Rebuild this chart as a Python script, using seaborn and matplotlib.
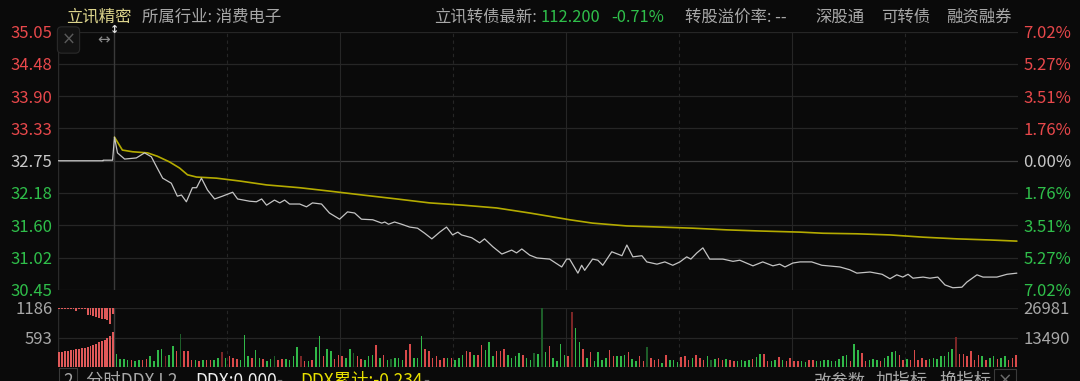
import numpy as np
import pandas as pd
import matplotlib
matplotlib.use("Agg")
import matplotlib.pyplot as plt
import seaborn as sns

# ---------------- data ----------------
prev_close = 32.75
price_ticks = [30.45, 31.02, 31.60, 32.18, 32.75, 33.33, 33.90, 34.48, 35.05]
pct_labels = ["7.02%", "5.27%", "3.51%", "1.76%", "0.00%", "1.76%", "3.51%", "5.27%", "7.02%"]

price_minute = [-15, -3, -3, -0.5, 0, 0.8, 2.7, 5.8, 8.0, 9.8,
                11.2, 12.8, 15.1, 16.7, 17.8, 19.1, 20.7, 21.8, 23.1, 24.7,
                26.6, 28.7, 31.4, 32.7, 35.9, 37.7, 39.1, 40.4, 42.5, 43.9,
                45.2, 46.5, 49.2, 51.0, 52.6, 55.0, 57.1, 59.8, 61.9, 63.8,
                65.6, 68.6, 71.0, 71.8, 72.8, 74.4, 76.3, 78.4, 80.5, 82.4,
                84.3, 86.4, 88.2, 89.8, 91.2, 92.2, 94.9, 97.0, 98.3, 100.5,
                102.9, 105.5, 106.8, 108.2, 110.3, 112.2, 115.6, 118.8, 120.1, 120.9,
                123.1, 124.1, 124.9, 127.0, 128.4, 129.7, 132.1, 134.8, 136.1, 137.7,
                140.1, 141.4, 144.1, 146.2, 148.3, 150.2, 152.0, 153.1, 154.7, 156.3,
                158.1, 161.6, 164.3, 166.1, 169.6, 172.2, 174.9, 176.7, 178.1, 180.2,
                182.1, 185.2, 187.9, 192.7, 195.3, 197.2, 200.7, 203.9, 206.0, 207.8,
                209.4, 210.8, 212.1, 214.8, 216.6, 218.7, 220.6, 222.7, 225.1, 226.4,
                229.1, 230.7, 234.4, 237.1, 239.7]
price = [32.75, 32.75, 32.76, 32.76, 33.17, 32.89, 32.78, 32.80, 32.89, 32.82,
         32.64, 32.44, 32.35, 32.12, 32.14, 32.02, 32.27, 32.27, 32.44, 32.23,
         32.07, 32.12, 32.19, 32.07, 32.03, 32.02, 32.07, 31.96, 32.05, 32.00,
         32.05, 31.98, 31.98, 31.93, 32.00, 31.98, 31.82, 31.71, 31.84, 31.82,
         31.71, 31.70, 31.64, 31.66, 31.62, 31.66, 31.62, 31.57, 31.55, 31.46,
         31.36, 31.48, 31.57, 31.43, 31.48, 31.43, 31.38, 31.29, 31.36, 31.22,
         31.09, 31.16, 31.11, 31.18, 31.07, 31.02, 31.00, 30.86, 31.00, 31.00,
         30.75, 30.89, 30.80, 31.00, 30.98, 30.89, 31.13, 31.06, 31.25, 31.04,
         31.06, 30.95, 30.91, 30.95, 30.89, 30.95, 31.04, 31.00, 31.11, 31.20,
         31.00, 31.00, 30.96, 30.98, 30.88, 30.95, 30.88, 30.91, 30.86, 30.93,
         30.95, 30.95, 30.89, 30.86, 30.81, 30.75, 30.77, 30.73, 30.65, 30.72,
         30.68, 30.73, 30.66, 30.68, 30.66, 30.68, 30.54, 30.49, 30.50, 30.59,
         30.72, 30.68, 30.68, 30.73, 30.75]

avg_minute = [0, 2.1, 4.8, 8.8, 11.4, 14.6, 17.3, 19.4, 21.8, 27.1,
              33.2, 40.4, 49.2, 57.1, 65.9, 75.0, 83.7, 92.5, 101.5, 110.3,
              118.3, 120.9, 127.0, 136.1, 144.9, 153.6, 162.7, 171.4, 182.1, 188.2,
              197.2, 206.0, 214.8, 223.8, 232.6, 239.7]
avg_price = [33.17, 32.94, 32.91, 32.89, 32.83, 32.73, 32.62, 32.50, 32.46, 32.44,
             32.39, 32.32, 32.27, 32.21, 32.14, 32.07, 32.00, 31.96, 31.91, 31.82,
             31.73, 31.70, 31.64, 31.59, 31.57, 31.55, 31.52, 31.50, 31.48, 31.46,
             31.45, 31.43, 31.39, 31.36, 31.34, 31.32]

# per-minute volume (240 minutes) and bar colour code: r/g bright, R/G dim
volume = [6080, 3650, 3800, 3340, 3040, 2890, 3340, 3040, 3650, 4860,
          2890, 7900, 8360, 4860, 5620, 9420, 7450, 15200, 7450, 7450,
          3340, 3340, 2890, 3340, 3340, 3340, 3340, 4100, 6690, 4100,
          4860, 4100, 3650, 3340, 14740, 4860, 4100, 7600, 4100, 3650,
          2580, 3800, 5170, 3340, 3650, 3800, 3340, 4860, 9120, 4860,
          2580, 2580, 3040, 9120, 14290, 4860, 8210, 7140, 3650, 5620,
          4860, 4100, 8210, 6380, 4860, 3650, 3340, 4860, 5620, 10180,
          4100, 5620, 3340, 3650, 4100, 4100, 3340, 7600, 10640, 4100,
          4100, 14290, 8210, 7140, 4100, 4860, 3340, 4100, 4100, 4100,
          3340, 4100, 5620, 7450, 6690, 5620, 5620, 10180, 7600, 11250,
          4860, 7140, 7450, 8210, 5620, 4100, 4860, 6380, 5620, 4100,
          3340, 6380, 6080, 26900,
          6690, 9420, 4100, 2580, 10490, 5320, 4860, 24930, 17780, 11400,
          8360, 4100, 6840, 2890, 6690, 3040, 4100, 7600, 5170, 4860,
          5170, 5620, 6840, 3650, 2580, 4860, 2890, 9120, 4100, 3340,
          3650, 1820, 5620, 3340, 3340, 2130, 4560, 5170, 3340, 4100,
          5620, 4100, 3340, 4860, 3340, 3800, 4100, 3340, 3650, 3340,
          2890, 2580, 3340, 2890, 3340, 3800, 4560, 6080, 6080, 2890,
          2580, 3340, 4410, 3340, 2890, 4100, 2890, 2580, 2580, 2280,
          3340, 3340, 2890, 2890, 3040, 3340, 2580, 2890, 3650, 4860,
          5620, 2890, 10490, 7900, 6380, 2890, 3340, 3650, 3340, 2580,
          4100, 4860, 6690, 7140, 5620, 3040, 3800, 3040, 7900, 3040,
          4100, 3340, 3650, 4100, 3650, 4860, 5170, 6840, 8210, 13530,
          6080, 6080, 5170, 7140, 3040, 5620, 4860, 3340, 4100, 4860,
          3650, 4100, 5170, 3340, 4100, 5620]
vol_code = list(
    "ggggrggrrg" "gggRggrGrr" "rgrgrrggRg" "rrrgggrggr" "ggGrrggggR"
    "rgrggrggrr" "rggGrrgggr" "grgGgggrrg" "ggrrrrrrgr" "gggrrgrrgg"
    "grrrgggg" "rggGgG"
    "grggggrRgg" "rgrggggrrg" "ggrggrrGrr" "rgrgggrrrg" "rrrgGgrrgr"
    "rggggrggrr" "ggrgrrrrgg" "rrgggggggg" "grggrrgggr" "ggggrrgrrr"
    "rrgggggggR" "rrrrrrgrgg" "rggrrr")

auction_minute = [-15 + 0.75 * k for k in range(20)]
auction_matched = [300, 310, 320, 330, 340, 350, 360, 370, 380, 390,
                   410, 430, 450, 470, 500, 520, 550, 580, 620, 700]
auction_unmatched = [20, 20, 20, 20, 20, 20, 60, 20, 20, 20,
                     140, 150, 160, 180, 200, 220, 230, 250, 330, 120]

# ---------------- style ----------------
BG = "#0a0a0a"
GRID = "#262626"
RED = "#e8484b"
GREEN = "#2fbf4a"
GRAY = "#a8a8a8"
sns.set_theme(style="dark", rc={"axes.facecolor": BG, "figure.facecolor": BG,
                                "savefig.facecolor": BG, "axes.edgecolor": BG,
                                "axes.grid": False, "patch.edgecolor": "none",
                                "patch.linewidth": 0})
plt.rcParams["font.family"] = ["Noto Sans CJK SC", "DejaVu Sans"]

W, H = 1080, 381
fig = plt.figure(figsize=(W / 100, H / 100), dpi=100)


def fx(px):
    return px / W


def fy(px):
    return 1 - px / H


LBL = 12
L, Rr = fx(58), fx(1018)
ax = fig.add_axes([L, fy(290), Rr - L, fy(31.5) - fy(290)])
ax.set_facecolor(BG)
ax.set_xlim(-15, 240)
ax.set_ylim(price_ticks[0], price_ticks[-1])
for s in ax.spines.values():
    s.set_visible(False)

for v in price_ticks:
    ax.axhline(v, color="#3c3c3c" if v == prev_close else GRID, lw=0.9, zorder=0)
for m in [30, 90, 150, 210]:
    ax.axvline(m, color="#262626", lw=0.8, ls=(0, (3, 3)), zorder=0)
for m in [60, 120, 180]:
    ax.axvline(m, color="#262626", lw=0.8, zorder=0)
ax.axvline(0, color="#3a3a3a", lw=1.0, zorder=0)
ax.axvline(-15, color="#2a2a2a", lw=1.0, zorder=0)

df_p = pd.DataFrame({"minute": price_minute, "price": price})
df_a = pd.DataFrame({"minute": avg_minute, "price": avg_price})
sns.lineplot(data=df_a, x="minute", y="price", ax=ax, color="#b4ab00", lw=1.2,
             estimator=None, sort=False, zorder=3)
sns.lineplot(data=df_p, x="minute", y="price", ax=ax, color="#c4c4c4", lw=0.9,
             estimator=None, sort=False, zorder=4)
ax.set_xlabel("")
ax.set_ylabel("")
ax.set_xticks([])


def lab_color(v):
    if abs(v - prev_close) < 1e-6:
        return "#c8c8c8"
    return RED if v > prev_close else GREEN


ax.set_yticks(price_ticks)
ax.set_yticklabels([f"{v:.2f}" for v in price_ticks])
ax.tick_params(axis="y", length=0, pad=4, labelsize=LBL)
for t, v in zip(ax.get_yticklabels(), price_ticks):
    t.set_color(lab_color(v))

ax2 = ax.twinx()
ax2.set_ylim(ax.get_ylim())
ax2.set_yticks(price_ticks)
ax2.set_yticklabels(pct_labels)
ax2.tick_params(axis="y", length=0, pad=4, labelsize=LBL)
for t, v in zip(ax2.get_yticklabels(), price_ticks):
    t.set_color(lab_color(v))
for s in ax2.spines.values():
    s.set_visible(False)
ax2.grid(False)

# ---------------- volume panel ----------------
axv = fig.add_axes([L, fy(367), Rr - L, fy(308) - fy(367)])
axv.set_facecolor(BG)
axv.set_xlim(-15, 240)
axv.set_ylim(0, 26981)
for s in axv.spines.values():
    s.set_visible(False)
for v in [13490, 26981]:
    axv.axhline(v, color=GRID, lw=0.9, zorder=0)
axv.axhline(0, color="#333333", lw=1.0, zorder=0)
for m in [30, 90, 150, 210]:
    axv.axvline(m, color="#262626", lw=0.8, ls=(0, (3, 3)), zorder=0)
for m in [60, 120, 180]:
    axv.axvline(m, color="#262626", lw=0.8, zorder=0)
axv.axvline(0, color="#3a3a3a", lw=1.0, zorder=0)
axv.axvline(-15, color="#2a2a2a", lw=1.0, zorder=0)

cmap = {"r": "#d94a4a", "R": "#7a2626", "g": "#30b848", "G": "#1d5e29"}
vol_minute = np.arange(len(volume)) + 0.5
axv.bar(vol_minute, volume, width=0.42, color=[cmap[c] for c in vol_code],
        edgecolor="none", linewidth=0, zorder=2)
axv.set_xticks([])

axa = axv.twinx()
axa.set_ylim(0, 1186)
axa.set_xlim(-15, 240)
for s in axa.spines.values():
    s.set_visible(False)
axa.grid(False)
axa.bar(np.array(auction_minute) + 0.375, auction_matched, width=0.5, color="#e05a5a",
        edgecolor="none", linewidth=0, zorder=2)
axa.bar(np.array(auction_minute) + 0.375, auction_unmatched, width=0.5,
        bottom=1186 - np.array(auction_unmatched), color="#e05a5a",
        edgecolor="none", linewidth=0, zorder=2)

axv.yaxis.tick_right()
axv.set_yticks([13490, 26981])
axv.set_yticklabels(["13490", "26981"])
axv.tick_params(axis="y", which="both", left=False, labelleft=False, right=False,
                labelright=True, length=0, pad=4, labelsize=LBL, labelcolor=GRAY)
axa.yaxis.tick_left()
axa.set_yticks([593, 1186])
axa.set_yticklabels(["593", "1186"])
axa.tick_params(axis="y", which="both", right=False, labelright=False, left=False,
                labelleft=True, length=0, pad=4, labelsize=LBL, labelcolor=GRAY)

# ---------------- header texts ----------------
hy = fy(17)
fs = 11.8
fig.text(fx(66), hy, "立讯精密", color="#dcd48c", fontsize=fs, va="center")
fig.text(fx(142), hy, "所属行业: 消费电子", color=GRAY, fontsize=fs, va="center")
fig.text(fx(434), hy, "立讯转债最新:", color=GRAY, fontsize=fs, va="center")
fig.text(fx(540), hy, "112.200", color=GREEN, fontsize=fs, va="center")
fig.text(fx(611), hy, "-0.71%", color=GREEN, fontsize=fs, va="center")
fig.text(fx(685), hy, "转股溢价率: --", color=GRAY, fontsize=fs, va="center")
fig.text(fx(815), hy, "深股通", color=GRAY, fontsize=fs, va="center")
fig.text(fx(881), hy, "可转债", color=GRAY, fontsize=fs, va="center")
fig.text(fx(946), hy, "融资融券", color=GRAY, fontsize=fs, va="center")

# small icons
fig.text(fx(68.5), fy(40), "×", color="#5a5a5a", fontsize=12, ha="center", va="center",
         family=["DejaVu Sans"],
         bbox=dict(boxstyle="round,pad=0.25", fc="#121212", ec="#2a2a2a", lw=0.8))
fig.text(fx(104), fy(40), "↔", color="#8a8a8a", fontsize=11, ha="center", va="center",
         family=["DejaVu Sans"])
fig.text(fx(114.5), fy(30), "↕", color="#e0e0e0", fontsize=8, ha="center", va="center",
         family=["DejaVu Sans"], fontweight="bold")

# ---------------- bottom texts ----------------
by = fy(372)
bfs = 12.5
fig.text(fx(68), by, "2", color=GRAY, fontsize=bfs, ha="center", va="top",
         bbox=dict(boxstyle="square,pad=0.25", fc=BG, ec="#3a3a3a", lw=0.8))
fig.text(fx(86), by, "分时DDX L2", color=GRAY, fontsize=bfs, va="top")
fig.text(fx(195), by, "DDX:0.000", color="#f0f0f0", fontsize=bfs, va="top")
fig.text(fx(276), by, "-", color="#707070", fontsize=bfs, va="top")
fig.text(fx(300), by, "DDX累计:-0.234", color="#e8e000", fontsize=bfs, va="top")
fig.text(fx(423), by, "-", color="#707070", fontsize=bfs, va="top")
fig.text(fx(814), by, "改参数", color=GRAY, fontsize=bfs, va="top")
fig.text(fx(876), by, "加指标", color=GRAY, fontsize=bfs, va="top")
fig.text(fx(939), by, "换指标", color=GRAY, fontsize=bfs, va="top")
fig.text(fx(1005), by, "×", color="#6a6a6a", fontsize=bfs, ha="center", va="top",
         family=["DejaVu Sans"],
         bbox=dict(boxstyle="square,pad=0.2", fc=BG, ec="#3a3a3a", lw=0.8))

fig.savefig("out.png", dpi=100, facecolor=BG)
